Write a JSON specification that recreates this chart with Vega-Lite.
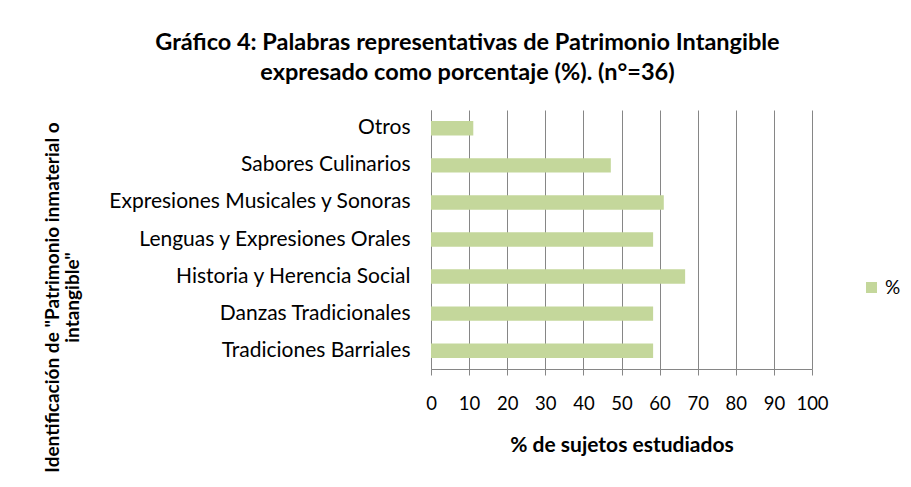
{
  "$schema": "https://vega.github.io/schema/vega-lite/v6.json",
  "width": 381,
  "height": 259,
  "autosize": "none",
  "padding": {"left": 431, "top": 110, "right": 99, "bottom": 118},
  "background": "white",
  "title": {
    "text": ["Gráfico 4: Palabras representativas de Patrimonio Intangible", "expresado como porcentaje (%). (n°=36)"],
    "anchor": "middle",
    "dx": -154,
    "offset": 26,
    "lineHeight": 30,
    "font": "Lato",
    "fontSize": 23.5,
    "fontWeight": "bold",
    "color": "#000000"
  },
  "data": {
    "values": [
      {"categoria": "Otros ", "serie": "%", "valor": 11.1},
      {"categoria": "Sabores Culinarios", "serie": "%", "valor": 47.2},
      {"categoria": "Expresiones Musicales y Sonoras", "serie": "%", "valor": 61.1},
      {"categoria": "Lenguas y Expresiones Orales", "serie": "%", "valor": 58.3},
      {"categoria": "Historia y Herencia Social", "serie": "%", "valor": 66.7},
      {"categoria": "Danzas Tradicionales", "serie": "%", "valor": 58.3},
      {"categoria": "Tradiciones Barriales", "serie": "%", "valor": 58.3}
    ]
  },
  "mark": {"type": "bar"},
  "encoding": {
    "y": {
      "field": "categoria",
      "type": "nominal",
      "sort": null,
      "scale": {"paddingInner": 0.61, "paddingOuter": 0.3},
      "axis": {
        "title": ["Identificación de \"Patrimonio inmaterial o", "intangible\""],
        "titleFont": "Lato",
        "titleFontSize": 19,
        "titleFontWeight": "bold",
        "titleColor": "#000000",
        "titleLineHeight": 20,
        "titleAnchor": "middle",
        "titleX": -369,
        "titleY": 187,
        "titleAlign": "center",
        "titleBaseline": "bottom",
        "labelFont": "Lato",
        "labelFontSize": 21,
        "labelColor": "#000000",
        "labelPadding": 21,
        "labelLimit": 0,
        "ticks": false,
        "domainColor": "#868686",
        "grid": false
      }
    },
    "x": {
      "field": "valor",
      "type": "quantitative",
      "scale": {"domain": [0, 100], "nice": false},
      "axis": {
        "values": [0, 10, 20, 30, 40, 50, 60, 70, 80, 90, 100],
        "title": "% de sujetos estudiados",
        "titleFont": "Lato",
        "titleFontSize": 21,
        "titleFontWeight": "bold",
        "titleColor": "#000000",
        "titlePadding": 22,
        "labelFont": "Lato",
        "labelFontSize": 18.5,
        "labelColor": "#000000",
        "labelPadding": 19,
        "labelOverlap": false,
        "labelFlush": false,
        "labelBound": false,
        "tickSize": 6,
        "tickColor": "#868686",
        "domainColor": "#868686",
        "grid": true,
        "gridColor": "#868686",
        "gridWidth": 1
      }
    },
    "color": {
      "field": "serie",
      "type": "nominal",
      "scale": {"range": ["#c4d79b"]},
      "legend": {
        "title": null,
        "orient": "none",
        "legendX": 431,
        "legendY": 168,
        "symbolType": "square",
        "symbolSize": 121,
        "symbolStrokeWidth": 0,
        "labelOffset": 4,
        "labelFont": "Lato",
        "labelFontSize": 19,
        "labelColor": "#000000"
      }
    }
  },
  "config": {
    "view": {"stroke": null}
  }
}
